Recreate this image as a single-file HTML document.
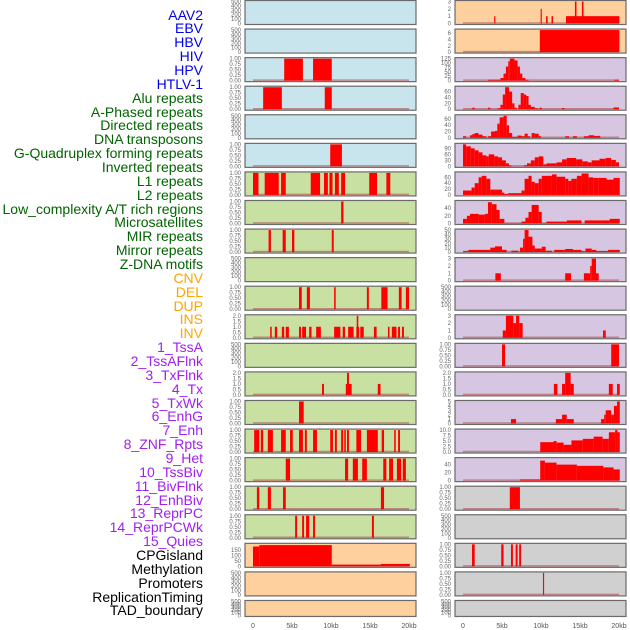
<!DOCTYPE html>
<html><head><meta charset="utf-8">
<style>
body{margin:0;background:#fff;width:630px;height:630px;overflow:hidden;font-family:"Liberation Sans",sans-serif}
#labels div{position:absolute;right:427px;font-size:14px;line-height:14px;white-space:nowrap}
</style></head>
<body>
<div id="labels"></div>
<svg id="chart" width="630" height="630" style="position:absolute;left:0;top:0"></svg>
<script>
const labelNames = ["AAV2","EBV","HBV","HIV","HPV","HTLV-1","Alu repeats","A-Phased repeats","Directed repeats","DNA transposons","G-Quadruplex forming repeats","Inverted repeats","L1 repeats","L2 repeats","Low_complexity A/T rich regions","Microsatellites","MIR repeats","Mirror repeats","Z-DNA motifs","CNV","DEL","DUP","INS","INV","1_TssA","2_TssAFlnk","3_TxFlnk","4_Tx","5_TxWk","6_EnhG","7_Enh","8_ZNF_Rpts","9_Het","10_TssBiv","11_BivFlnk","12_EnhBiv","13_ReprPC","14_ReprPCWk","15_Quies","CPGisland","Methylation","Promoters","ReplicationTiming","TAD_boundary"];
const labelColors = ["#0000ee","#006400","#ffa500","#a020f0","#000000"];
const labelGroups = [6,13,5,15,5];
const xTicks = [0,5,10,15,20];
const xTickLabels = ["0","5kb","10kb","15kb","20kb"];

const T500=[0,100,200,300,400,500], T1=[0,0.25,0.5,0.75,1], T2=[0,0.5,1,1.5,2], T3=[0,1,2,3];
// segments: [startKb, endKb, value]
const sHBV=[[4.0,6.4,1],[7.7,10.1,1]];
const sHIV=[[1.3,3.7,1],[9.2,10.1,1]];
const sHTLV=[[9.9,11.4,1]];
const sAlu=[[0,0.7,1],[1.5,3.3,1],[3.6,4.2,1],[7.4,8.6,1],[9.1,9.6,1],[9.8,10.2,1],[10.5,11.0,1],[11.3,11.8,1],[14.9,15.9,1],[17.1,17.6,1]];
const sAPh=[[11.3,11.6,1]];
const sDir=[[2.0,2.3,1],[3.8,4.2,1],[5.0,5.3,1],[10.1,10.35,1]];
const sGQ=[[5.9,6.25,1],[6.9,7.3,1],[10.4,10.6,1],[14.6,14.85,1],[16.45,17.25,1],[18.7,19.05,1],[19.6,20.0,1]];
const sInv=[[2.2,2.4,1],[2.8,3.1,1],[3.7,4.0,1],[4.2,4.6,1],[5.9,6.15,1],[6.3,6.8,1],[7.2,7.5,1],[8.1,8.7,1],[10.4,11.2,1],[11.5,11.8,1],[12.2,12.9,1],[13.25,13.6,1],[13.3,13.5,2],[13.75,14.2,1],[15.5,15.85,1],[17.3,17.5,1],[17.8,18.4,1],[18.6,18.85,1],[19.1,19.35,1]];
const sL2=[[8.85,9.1,1],[11.9,12.65,1],[12.05,12.3,2],[16.0,16.35,1]];
const sLow=[[5.9,6.5,1]];
const sMic=[[0.15,0.8,1],[1.0,1.3,1],[1.9,2.55,1],[3.6,4.2,1],[4.75,5.1,1],[5.9,6.4,1],[6.65,6.9,1],[7.7,8.2,1],[9.9,10.25,1],[10.5,10.75,1],[11.3,11.55,1],[11.7,11.9,1],[12.05,12.3,1],[13.25,13.85,1],[14.6,16.0,1],[16.5,16.8,1],[18.1,18.3,1],[18.6,18.85,1]];
const sMIR=[[4.2,4.75,1],[11.8,12.2,1],[12.8,13.45,1],[14.0,14.6,1],[16.7,17.1,1],[17.45,17.95,1],[18.45,19.0,1],[19.2,19.6,1]];
const sMirror=[[0.5,0.8,1],[1.9,2.3,1],[3.85,4.2,1],[16.4,16.8,1]];
const sZ=[[5.4,5.65,1],[6.3,6.55,1],[6.8,7.2,1],[7.7,7.95,1],[15.25,15.5,1]];
const sCNV=[[0,0.8,180],[0.8,10.1,193],[10.1,16.4,16],[16.4,20.1,22]];
const sINS=[[4.0,4.15,1],[9.95,10.1,2],[10.65,10.85,1],[11.35,11.55,1],[13.2,20.05,1],[14.35,14.55,3],[15.25,15.45,3]];
const sINV=[[9.85,20.05,7]];
const sTssA=[[3.2,4.8,5],[4.8,5.2,15],[5.2,5.5,40],[5.5,5.8,80],[5.8,6.0,110],[6.0,6.6,125],[6.6,7.0,115],[7.0,7.3,80],[7.3,7.6,40],[7.6,8.0,15],[8.0,8.4,5],[19.4,20,5]];
const sTssAF=[[1.2,1.5,5],[3.2,3.5,5],[4.4,4.8,3],[4.8,5.1,15],[5.1,5.4,50],[5.4,5.9,75],[5.9,6.3,60],[6.3,6.6,20],[6.6,6.9,5],[7.1,7.4,15],[7.4,7.8,55],[7.8,8.1,50],[8.1,8.4,45],[8.4,8.7,15],[8.7,9.2,8],[9.2,9.6,3],[9.8,10.1,5],[12.7,13.0,4],[19.3,20.0,6]];
const sTxF=[[0,0.4,5],[0.9,1.2,8],[1.2,1.5,12],[1.5,2.0,15],[2.0,2.5,10],[2.5,3.0,5],[3.2,3.6,5],[3.6,4.1,20],[4.1,4.4,22],[4.4,4.7,45],[4.7,5.2,65],[5.2,5.6,70],[5.6,5.9,40],[5.9,6.3,15],[6.3,7.0,3],[7.0,7.5,7],[7.5,7.9,5],[7.9,8.3,13],[8.3,8.6,5],[8.8,9.2,15],[9.2,9.7,13],[9.7,10.0,5],[13.1,13.6,5],[14.1,14.6,5],[15.5,16.1,5],[16.1,16.8,8],[16.8,17.6,6]];
const sTx=[[0,0.4,110],[0.4,1.0,100],[1.0,1.5,90],[1.5,2.0,80],[2.0,2.5,70],[2.5,3.0,55],[3.0,3.3,50],[3.3,4.0,60],[4.0,4.5,50],[4.5,5.0,45],[5.0,5.5,30],[5.5,5.9,15],[5.9,6.2,5],[7.8,8.2,5],[8.2,8.7,15],[8.7,9.2,30],[9.2,9.7,45],[9.7,10.3,50],[10.3,10.7,10],[10.7,12.0,15],[12.0,12.7,20],[12.7,13.3,35],[13.3,14.5,42],[14.5,15.3,35],[15.3,16.0,25],[16.0,16.5,20],[16.5,17.5,30],[17.5,18.3,38],[18.3,19.0,42],[19.0,19.6,32],[19.6,20.0,20]];
const sTxWk=[[0,1.1,15],[1.1,1.5,25],[1.5,2.0,40],[2.0,2.4,60],[2.4,3.0,65],[3.0,3.5,55],[3.5,5.0,18],[5.0,5.3,8],[5.3,5.8,3],[5.8,7.5,6],[7.5,7.9,15],[7.9,8.4,55],[8.4,8.8,65],[8.8,9.2,45],[9.2,9.7,40],[9.7,10.1,55],[10.1,11.4,65],[11.4,12.0,70],[12.0,13.1,62],[13.1,13.5,55],[13.5,13.9,48],[13.9,14.6,55],[14.6,15.2,65],[15.2,16.1,73],[16.1,16.7,60],[16.7,17.4,58],[17.4,18.4,58],[18.4,19.3,52],[19.3,20.1,58]];
const sEnhG=[[0,0.5,12],[0.5,0.9,20],[0.9,2.0,25],[2.0,2.8,23],[2.8,3.2,25],[3.2,3.7,55],[3.7,4.3,50],[4.3,4.7,35],[4.7,5.3,12],[5.3,7.5,1],[7.5,8.0,5],[8.0,8.4,15],[8.4,8.8,30],[8.8,9.7,48],[9.7,10.1,30],[10.1,10.7,1],[10.7,13.3,5],[13.3,15.2,8],[15.6,17.8,8],[17.8,18.8,8],[18.8,20.1,12]];
const sEnh=[[0,0.7,2],[0.7,3.5,5],[3.5,4.1,10],[4.1,5.0,13],[5.0,5.6,5],[6.2,7.1,3],[7.3,7.7,10],[7.7,7.9,30],[7.9,8.4,50],[8.4,8.9,35],[8.9,9.2,15],[9.2,10.1,8],[10.1,10.6,12],[10.6,11.4,3],[11.7,13.1,5],[13.1,14.1,7],[14.1,15.2,5],[15.2,15.6,2],[15.7,16.5,8],[16.5,17.1,5],[17.1,18.6,2],[18.6,20.1,5]];
const sZNF=[[4.15,4.85,1],[13.1,13.85,1],[15.5,16.3,1],[16.3,16.5,2],[16.5,17.05,3],[17.05,17.4,1]];
const sTssBiv=[[5.1,5.5,1],[5.5,6.45,3],[6.45,6.8,2],[6.8,7.2,3],[7.2,7.65,2],[17.95,18.3,1]];
const sBivF=[[5.0,5.4,1],[19.0,20.0,1]];
const sEnhBiv=[[11.65,12.1,1],[12.7,13.1,1],[13.1,13.8,2],[13.8,14.2,1],[18.7,19.2,1],[19.75,20.1,1]];
const sReprPC=[[6.15,6.8,1],[11.9,12.7,1],[12.7,13.3,2],[13.3,14.2,1],[17.7,18.1,1],[18.1,18.3,2],[18.3,19.0,3],[19.0,19.35,2],[19.35,19.75,4],[19.75,20.1,5]];
const sReprPCWk=[[9.9,11.6,4.5],[11.6,12.0,5],[12.0,12.9,4.3],[12.9,13.9,3.3],[13.9,15.35,5.3],[15.35,16.75,6],[16.75,17.9,7],[17.9,18.7,6],[18.7,19.5,9],[19.5,19.8,10],[19.8,20.1,9]];
const sQuies=[[7.3,9.9,3],[9.9,10.5,50],[10.5,12.0,45],[12.0,14.6,40],[14.6,18.0,37],[18.0,19.3,33],[19.3,20.1,28]];
const sCpG=[[6.0,7.3,1]];
const sProm=[[1.15,1.5,1],[4.9,5.2,1],[6.15,6.4,1],[6.75,7.0,1],[7.2,7.45,1]];
const sRT=[[10.25,10.4,1]];

const BLUE="#c8e4ec",GREEN="#c8e0a2",ORANGE="#fdd09e",PURPLE="#d6c6e2",GRAY="#d0d0d0";
// [segments, ticks, yMax, bg, decimals]
const leftPanels=[[null,T500,500,BLUE],[null,T500,500,BLUE],[sHBV,T1,1,BLUE,2],[sHIV,T1,1,BLUE,2],[null,T500,500,BLUE],[sHTLV,T1,1,BLUE,2],
[sAlu,T1,1,GREEN,2],[sAPh,T1,1,GREEN,2],[sDir,T1,1,GREEN,2],[null,T500,500,GREEN],[sGQ,T1,1,GREEN,2],[sInv,T2,2,GREEN,1],[null,T500,500,GREEN],[sL2,T2,2,GREEN,1],[sLow,T1,1,GREEN,2],[sMic,T1,1,GREEN,2],[sMIR,T1,1,GREEN,2],[sMirror,T1,1,GREEN,2],[sZ,T1,1,GREEN,2],
[sCNV,[0,50,100,150],200,ORANGE],[null,T500,500,ORANGE],[null,T500,500,ORANGE]];
const rightPanels=[[sINS,T3,3,ORANGE],[sINV,[0,2,4,6],7,ORANGE],[sTssA,[0,25,50,75,100,125],125,PURPLE],[sTssAF,[0,20,40,60],75,PURPLE],[sTxF,[0,20,40,60],70,PURPLE],[sTx,[0,30,60,90],110,PURPLE],[sTxWk,[0,20,40,60],75,PURPLE],[sEnhG,[0,20,40],57,PURPLE],[sEnh,[0,10,20,30,40,50],50,PURPLE],[sZNF,T3,3,PURPLE],[null,T500,500,PURPLE],[sTssBiv,T3,3,PURPLE],[sBivF,T1,1,PURPLE,2],[sEnhBiv,T2,2,PURPLE,1],[sReprPC,[0,1,2,3,4,5],5,PURPLE],[sReprPCWk,[0,2.5,5,7.5,10],10,PURPLE,1],[sQuies,[0,20,40],55,PURPLE],
[sCpG,T1,1,GRAY,2],[null,T500,500,GRAY],[sProm,T1,1,GRAY,2],[sRT,T1,1,GRAY,2],[null,T500,500,GRAY]];

// labels
const lab=document.getElementById('labels');
let gi=0,cnt=0;
labelNames.forEach((n,i)=>{
  const d=document.createElement('div');
  
  
  d.textContent=n;
  if(cnt>=labelGroups[gi]){gi++;cnt=0;}
  cnt++;
  d.style.color=labelColors[gi];
  d.style.top=(15+i*13.86-7.5)+'px';
  lab.appendChild(d);
});

const svg=document.getElementById('chart');
const NS='http://www.w3.org/2000/svg';
function mk(t,a,p){const e=document.createElementNS(NS,t);for(const k in a)e.setAttribute(k,a[k]);(p||svg).appendChild(e);return e;}
const KBPX=7.8;
function drawCol(panels,px,x0,colName){
  panels.forEach((p,i)=>{
    const [segs,ticks,ymax,bg,dec]=p;
    const top=0.5+28.57*i, h=(i==21?16:24);
    const g=mk('g',{});
    
    
    const r=mk('rect',{x:px,y:top,width:171,height:h,fill:bg,stroke:'#6a6a6a','stroke-width':1.2},g);
    
    
    const yb=top+h-1, yt=top+1;
    const ys=v=>yb-(v/ymax)*(yb-yt);
    const xs=k=>x0+k*KBPX;
    ticks.forEach(t=>{
      const tx=mk('text',{x:px-4,y:ys(t)+2,'font-size':6,fill:'#666','text-anchor':'end'},g);
      
      
      tx.textContent=dec?t.toFixed(dec):String(t);
    });
    if(segs){
      const bl=mk('line',{x1:xs(0),x2:xs(20),y1:yb-0.5,y2:yb-0.5,stroke:'#b05050','stroke-opacity':0.6,'stroke-width':1.5},g);
      
      
      segs.forEach(s=>{
        const b=mk('rect',{x:xs(s[0]),y:ys(s[2]),width:Math.max(1,xs(s[1])-xs(s[0])),height:yb-ys(s[2]),fill:'#ff0000'},g);
        
        
      });
    }
  });
  xTicks.forEach((t,j)=>{
    const tx=mk('text',{x:x0+t*KBPX,y:628,'font-size':7,fill:'#555','text-anchor':'middle'});
    
    
    tx.textContent=xTickLabels[j];
  });
}
drawCol(leftPanels,245,253,'left');
drawCol(rightPanels,455,463,'right');
</script>
</body></html>
